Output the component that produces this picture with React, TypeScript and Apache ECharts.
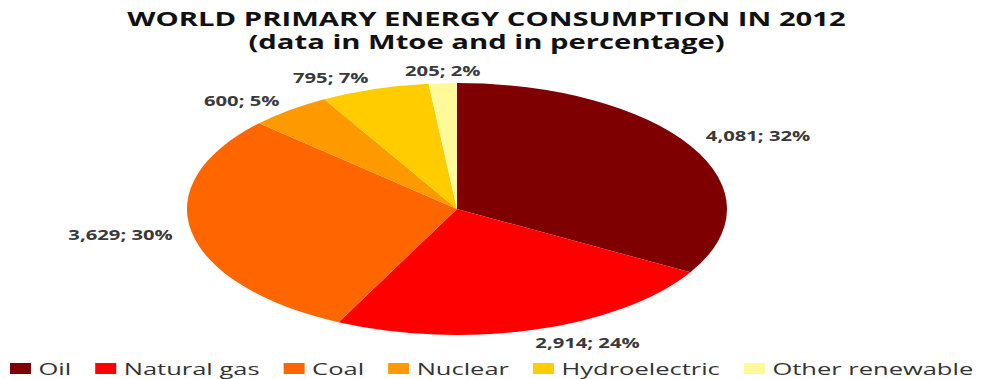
import React, { useEffect, useRef } from 'react';
import * as echarts from 'echarts';

// ---- data ----
const categories = ['Oil', 'Natural gas', 'Coal', 'Nuclear', 'Hydroelectric', 'Other renewable'];
const valuesMtoe = [4081, 2914, 3629, 600, 795, 205];
const percentLabels = [32, 24, 30, 5, 7, 2];

// ---- style / layout ----
const colors = ['#7F0000', '#FF0000', '#FF6600', '#FF9900', '#FFCC00', '#FFFA99'];
const STRETCH = 1.5; // horizontal stretch of the whole picture
const W = 983;
const H = 379;
const PIE = { cx: 457, cy: 209, rx: 270, ry: 126 }; // page pixels
// label offsets from the slice's mid-point on the rim (page pixels)
const labelNudge: [number, number][] = [
  [67, -10],
  [52, 13],
  [-71, 3],
  [-48, -9],
  [-44, -11],
  [0, -12],
];
const FONT = '"Open Sans", "Noto Sans", sans-serif';

export default function App() {
  const ref = useRef<HTMLDivElement>(null);
  useEffect(() => {
    if (!ref.current) return;
    const chart = echarts.init(ref.current, null, { renderer: 'svg' });
    const total = valuesMtoe.reduce((a, b) => a + b, 0);
    const series = categories.map((name, i) => ({
      type: 'custom',
      name,
      coordinateSystem: 'none',
      itemStyle: { color: colors[i] },
      data: [valuesMtoe[i]],
      renderItem: (params: any, api: any) => {
        const idx = params.seriesIndex;
        const before = valuesMtoe.slice(0, idx).reduce((a, b) => a + b, 0);
        const v = api.value(0);
        const a0 = -Math.PI / 2 + (2 * Math.PI * before) / total;
        const a1 = a0 + (2 * Math.PI * v) / total;
        const mid = (a0 + a1) / 2;
        const rx = PIE.rx / STRETCH;
        const ax = PIE.cx + PIE.rx * Math.cos(mid);
        const ay = PIE.cy + PIE.ry * Math.sin(mid);
        const [dx, dy] = labelNudge[idx];
        return {
          type: 'group',
          children: [
            {
              type: 'group',
              x: PIE.cx / STRETCH,
              y: PIE.cy,
              scaleY: PIE.ry / rx,
              children: [
                {
                  type: 'sector',
                  shape: { cx: 0, cy: 0, r0: 0, r: rx, startAngle: a0, endAngle: a1, clockwise: true },
                  style: { fill: api.visual('color') },
                },
              ],
            },
            {
              type: 'text',
              x: (ax + dx) / STRETCH,
              y: ay + dy,
              style: {
                text: `${v.toLocaleString('en-US')}; ${percentLabels[idx]}%`,
                fill: '#3a3a3a',
                fontSize: 13.5,
                fontWeight: 'bold',
                fontFamily: FONT,
                align: 'center',
                verticalAlign: 'middle',
              },
            },
          ],
        };
      },
    }));
    chart.setOption({
      animation: false,
      color: colors,
      title: {
        text: 'WORLD PRIMARY ENERGY CONSUMPTION IN 2012\n(data in Mtoe and in percentage)',
        left: 479 / STRETCH,
        textAlign: 'center',
        top: 2,
        textStyle: {
          fontFamily: FONT,
          fontWeight: 'bold',
          fontSize: 19.5,
          lineHeight: 23,
          color: '#111',
        },
      },
      legend: {
        data: categories,
        left: 10 / STRETCH,
        top: 360,
        padding: 0,
        icon: 'rect',
        itemWidth: 14,
        itemHeight: 11,
        itemGap: 16,
        textStyle: { fontFamily: FONT, fontSize: 17, color: '#333' },
      },
      series,
    } as any);
    return () => chart.dispose();
  }, []);
  return (
    <div
      ref={ref}
      style={{
        position: 'absolute',
        left: 0,
        top: 0,
        width: W / STRETCH,
        height: H,
        transform: `scaleX(${STRETCH})`,
        transformOrigin: '0 0',
      }}
    />
  );
}
